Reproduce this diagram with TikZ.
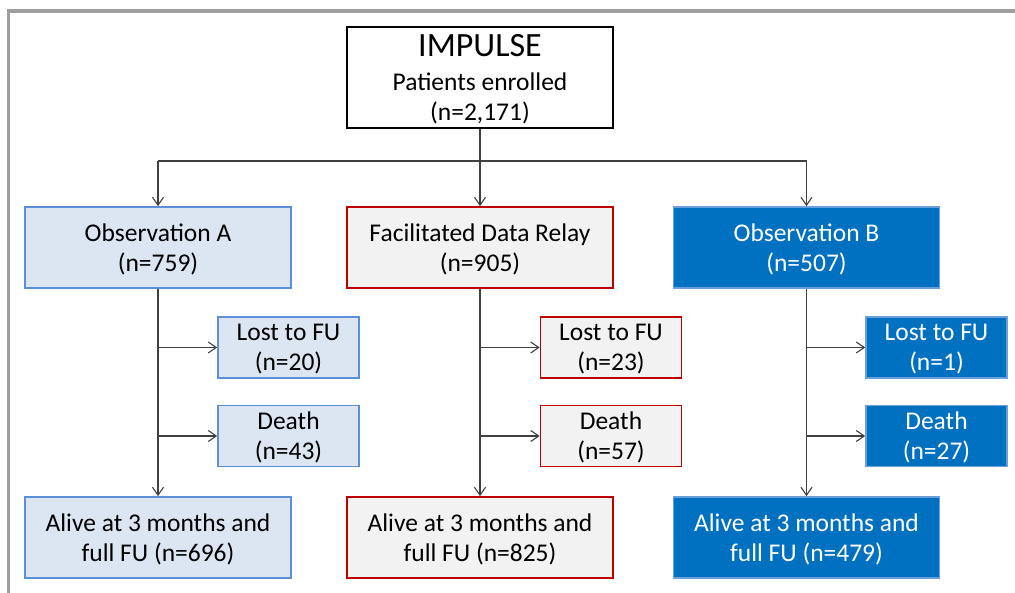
\documentclass[tikz,border=0pt]{standalone}
\usepackage{fontspec}
\setmainfont{Carlito}
\usetikzlibrary{arrows.meta}
\definecolor{armAfill}{HTML}{DCE6F2}
\definecolor{armAline}{HTML}{5B8FD6}
\definecolor{fdrfill}{HTML}{F2F2F2}
\definecolor{fdrline}{HTML}{C00000}
\definecolor{armBfill}{HTML}{0070C0}
\definecolor{armBline}{HTML}{6A9FDB}
\definecolor{linkgray}{HTML}{404040}
\definecolor{framegray}{HTML}{9E9E9E}
\begin{document}
\begin{tikzpicture}[x=1pt,y=-1pt,
  box/.style={rectangle,line width=1.6pt,inner sep=0pt,align=center,text depth=0pt,
    font=\fontsize{25.5}{30}\selectfont},
  bigbox/.style={box,minimum width=266pt,minimum height=81pt},
  smallbox/.style={bigbox,minimum width=141pt,minimum height=61pt},
  armA/.style={draw=armAline,fill=armAfill},
  fdr/.style={draw=fdrline,fill=fdrfill},
  armB/.style={draw=armBline,fill=armBfill,text=white},
  link/.style={draw=linkgray,line width=1.1pt,-{Straight Barb[length=8pt,width=11pt,line width=1.1pt]}}]
\useasboundingbox (0,0) rectangle (1015,593);
\draw[framegray,line width=3.5pt] (8.5,600) -- (8.5,11) -- (1025,11);
% enrolment
\node[box,draw=black,line width=1.2pt,minimum width=266pt,minimum height=101pt] (T) at (480,77.5)
  {{\fontsize{34}{36}\selectfont IMPULSE}\\[4pt]Patients enrolled\\(n=2,171)};
% arms
\node[bigbox,armA] (A) at (158,247.5) {Observation A\\(n=759)};
\node[bigbox,fdr] (M) at (480,247.5) {Facilitated Data Relay\\(n=905)};
\node[bigbox,armB] (B) at (806.5,247.5) {Observation B\\(n=507)};
% losses
\node[smallbox,armA] (AL) at (288.5,347.5) {Lost to FU\\(n=20)};
\node[smallbox,armA] (AD) at (288.5,436) {Death\\(n=43)};
\node[smallbox,fdr] (ML) at (611,347.5) {Lost to FU\\(n=23)};
\node[smallbox,fdr] (MD) at (611,436) {Death\\(n=57)};
\node[smallbox,armB] (BL) at (936.5,347.5) {Lost to FU\\(n=1)};
\node[smallbox,armB] (BD) at (936.5,436) {Death\\(n=27)};
% completers
\node[bigbox,armA] (AF) at (158,537.5) {Alive at 3 months and\\full FU (n=696)};
\node[bigbox,fdr] (MF) at (480,537.5) {Alive at 3 months and\\full FU (n=825)};
\node[bigbox,armB] (BF) at (806.5,537.5) {Alive at 3 months and\\full FU (n=479)};
\coordinate (S) at (480,161);
\draw[linkgray,line width=1.1pt] (T.south) -- (S);
\draw[linkgray,line width=1.1pt] (A.north |- S) -- (B.north |- S);
\draw[link] (A.north |- S) -- (A.north);
\draw[link] (S) -- (M.north);
\draw[link] (B.north |- S) -- (B.north);
\draw[link] (A.south) -- (AF.north);
\draw[link] (M.south) -- (MF.north);
\draw[link] (B.south) -- (BF.north);
\draw[link] (A.south |- AL.west) -- (AL.west);
\draw[link] (A.south |- AD.west) -- (AD.west);
\draw[link] (M.south |- ML.west) -- (ML.west);
\draw[link] (M.south |- MD.west) -- (MD.west);
\draw[link] (B.south |- BL.west) -- (BL.west);
\draw[link] (B.south |- BD.west) -- (BD.west);
\end{tikzpicture}
\end{document}
